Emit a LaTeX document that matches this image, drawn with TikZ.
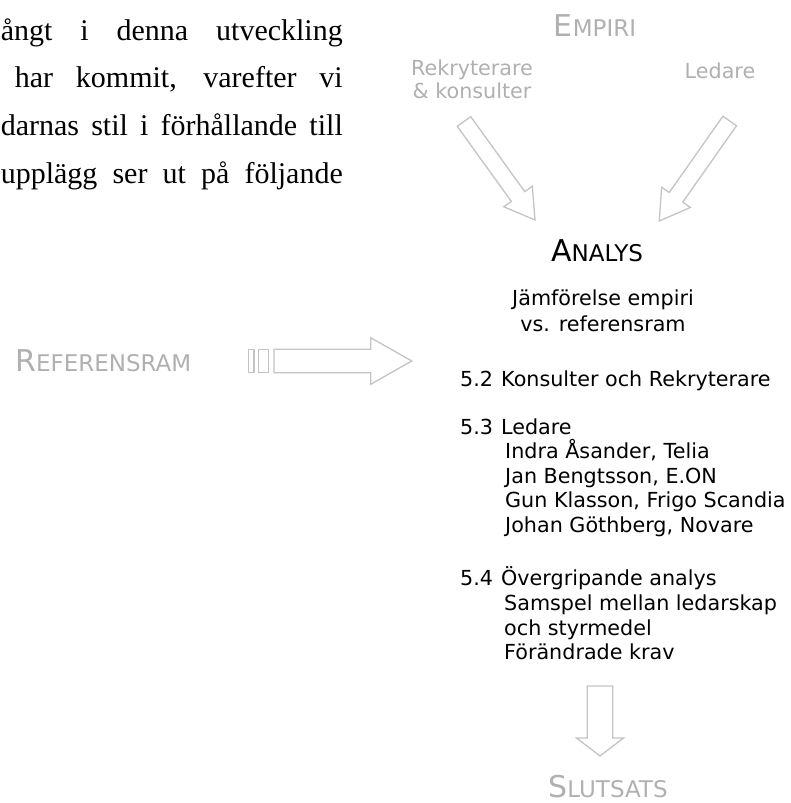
\documentclass[tikz,border=0pt]{standalone}
\usepackage{fontspec}
\setmainfont{Liberation Serif}
\newfontfamily\verd{DejaVu Sans}
\usetikzlibrary{calc}

\definecolor{labelgray}{HTML}{B0B0B0}
\definecolor{arrowgray}{HTML}{C4C4C4}

% fake small capitals: large initial, smaller remaining capitals
\newcommand\capsc[2]{{\fontsize{30}{30}\selectfont #1}{\fontsize{23}{23}\selectfont #2}}
% number column of the outline entries
\newcommand\secno[1]{\makebox[41pt][l]{#1}}

% outlined block arrow: name, tail, tip, shaft half width, head half width, head length
\newcommand\hollowarrow[6]{%
  \coordinate (#1-hb) at ($(#3)!#6!(#2)$);
  \draw[hollow] ($(#2)!#4!90:(#3)$) -- ($(#1-hb)!#4!90:(#3)$)
    -- ($(#1-hb)!#5!90:(#3)$) -- (#3) -- ($(#1-hb)!#5!-90:(#3)$)
    -- ($(#1-hb)!#4!-90:(#3)$) -- ($(#2)!#4!-90:(#3)$) -- cycle;
}

\tikzset{
  bodyline/.style={font=\fontsize{30}{30}\selectfont, inner sep=0pt, anchor=base east},
  graylabel/.style={font=\verd\fontsize{20.7}{24.5}\selectfont, text=labelgray, inner sep=0pt, anchor=base},
  heading/.style={font=\verd, inner sep=0pt, anchor=base},
  listtext/.style={font=\verd\fontsize{20.7}{24.5}\selectfont, inner sep=0pt, anchor=base west},
  hollow/.style={draw=arrowgray, line width=1.3pt, line join=miter, fill=white},
}

\begin{document}
\begin{tikzpicture}[x=1pt,y=-1pt]
\useasboundingbox (0,0) rectangle (791,803);

% running text of the page, justified to the column edge
\node[bodyline] (p1) at (343,40)    {\makebox[342pt][s]{ångt i denna utveckling}};
\node[bodyline] (p2) at (343,87.7)  {\makebox[328pt][s]{har kommit, varefter vi}};
\node[bodyline] (p3) at (343,135.4) {\makebox[342pt][s]{darnas stil i förhållande till}};
\node[bodyline] (p4) at (343,183)   {\makebox[342pt][s]{upplägg ser ut på följande}};

% empirical sources
\node[heading, text=labelgray] (empiri) at (595,36) {\capsc{E}{MPIRI}};
\node[graylabel] (rek1) at (472,75) {Rekryterare};
\node[graylabel] (rek2) at (472,98.5) {\& konsulter};
\node[graylabel] (led) at (720,78) {Ledare};

\coordinate (lt-tail) at (464,121.5);
\coordinate (lt-tip)  at (535,220);
\coordinate (rt-tail) at (729.7,121);
\coordinate (rt-tip)  at (659.3,221);
\hollowarrow{la}{lt-tail}{lt-tip}{8.3pt}{17.6pt}{29pt}
\hollowarrow{ra}{rt-tail}{rt-tip}{8.3pt}{17.6pt}{29pt}

% analysis block
\node[heading] (analys) at (597,261.7) {\capsc{A}{NALYS}};
\node[graylabel, text=black] (jmf1) at (603,305) {Jämförelse empiri};
\node[graylabel, text=black] (jmf2) at (603,331.5) {vs. referensram};

\node[listtext] (s52) at (460,386) {\secno{5.2}Konsulter och Rekryterare};
\node[listtext] (s53) at (460,434) {\secno{5.3}Ledare};
\node[listtext] (l1) at (505,458.5) {Indra Åsander, Telia};
\node[listtext] (l2) at (505,483) {Jan Bengtsson, E.ON};
\node[listtext] (l3) at (505,507.5) {Gun Klasson, Frigo Scandia};
\node[listtext] (l4) at (505,532) {Johan Göthberg, Novare};
\node[listtext] (s54) at (460,585.7) {\secno{5.4}Övergripande analys};
\node[listtext] (o1) at (504,610.3) {Samspel mellan ledarskap};
\node[listtext] (o2) at (504,635) {och styrmedel};
\node[listtext] (o3) at (504,659.7) {Förändrade krav};

% theoretical frame feeding the analysis
\node[heading, text=labelgray, anchor=base west] (ref) at (15,371.7) {\capsc{R}{EFERENSRAM}};
\draw[hollow] (248.3,349.3) rectangle (254,372.7);
\draw[hollow] (258.3,349.3) rectangle (268.3,372.7);
\coordinate (ha-tail) at (274,361);
\coordinate (ha-tip)  at (411.7,361);
\hollowarrow{ha}{ha-tail}{ha-tip}{11.7pt}{23.3pt}{41pt}

% conclusion
\coordinate (da-tail) at (600,686);
\coordinate (da-tip)  at (600,756);
\hollowarrow{da}{da-tail}{da-tip}{12.7pt}{23.5pt}{18pt}
\node[heading, text=labelgray] (slut) at (608,797) {\capsc{S}{LUTSATS}};
\end{tikzpicture}
\end{document}
